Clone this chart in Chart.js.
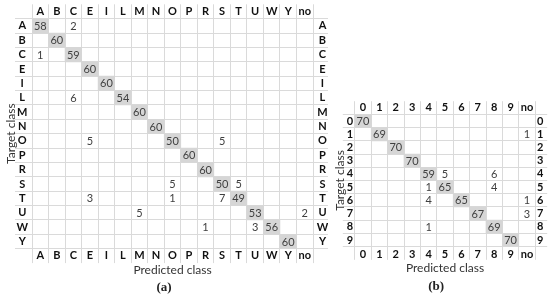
<!DOCTYPE html>
<html>
<head>
<meta charset="utf-8">
<script src="https://cdn.jsdelivr.net/npm/chart.js@4.4.0/dist/chart.umd.min.js"></script>
<style>
    body { margin: 0; background: #fff; }
    #wrap { position: relative; width: 550px; height: 297px; }
    canvas { position: absolute; top: 0; }
    #chartA { left: 0; }
    #chartB { left: 325px; }
</style>
</head>
<body>
<div id="wrap">
    <canvas id="chartA" width="340" height="297"></canvas>
    <canvas id="chartB" width="225" height="297"></canvas>
</div>
<script>
"use strict";

/* (a) letters */
var rowsA = ['A', 'B', 'C', 'E', 'I', 'L', 'M', 'N', 'O', 'P', 'R', 'S', 'T', 'U', 'W', 'Y'];
var colsA = ['A', 'B', 'C', 'E', 'I', 'L', 'M', 'N', 'O', 'P', 'R', 'S', 'T', 'U', 'W', 'Y', 'no'];
var countsA = [
    // A  B   C   E   I   L   M   N   O   P   R   S   T   U   W   Y  no
    [58, 0,  2,  0,  0,  0,  0,  0,  0,  0,  0,  0,  0,  0,  0,  0, 0],
    [0, 60,  0,  0,  0,  0,  0,  0,  0,  0,  0,  0,  0,  0,  0,  0, 0],
    [1,  0, 59,  0,  0,  0,  0,  0,  0,  0,  0,  0,  0,  0,  0,  0, 0],
    [0,  0,  0, 60,  0,  0,  0,  0,  0,  0,  0,  0,  0,  0,  0,  0, 0],
    [0,  0,  0,  0, 60,  0,  0,  0,  0,  0,  0,  0,  0,  0,  0,  0, 0],
    [0,  0,  6,  0,  0, 54,  0,  0,  0,  0,  0,  0,  0,  0,  0,  0, 0],
    [0,  0,  0,  0,  0,  0, 60,  0,  0,  0,  0,  0,  0,  0,  0,  0, 0],
    [0,  0,  0,  0,  0,  0,  0, 60,  0,  0,  0,  0,  0,  0,  0,  0, 0],
    [0,  0,  0,  5,  0,  0,  0,  0, 50,  0,  0,  5,  0,  0,  0,  0, 0],
    [0,  0,  0,  0,  0,  0,  0,  0,  0, 60,  0,  0,  0,  0,  0,  0, 0],
    [0,  0,  0,  0,  0,  0,  0,  0,  0,  0, 60,  0,  0,  0,  0,  0, 0],
    [0,  0,  0,  0,  0,  0,  0,  0,  5,  0,  0, 50,  5,  0,  0,  0, 0],
    [0,  0,  0,  3,  0,  0,  0,  0,  1,  0,  0,  7, 49,  0,  0,  0, 0],
    [0,  0,  0,  0,  0,  0,  5,  0,  0,  0,  0,  0,  0, 53,  0,  0, 2],
    [0,  0,  0,  0,  0,  0,  0,  0,  0,  0,  1,  0,  0,  3, 56,  0, 0],
    [0,  0,  0,  0,  0,  0,  0,  0,  0,  0,  0,  0,  0,  0,  0, 60, 0]
];

/* (b) digits */
var rowsB = ['0', '1', '2', '3', '4', '5', '6', '7', '8', '9'];
var colsB = ['0', '1', '2', '3', '4', '5', '6', '7', '8', '9', 'no'];
var countsB = [
    // 0  1   2   3   4   5   6   7   8   9  no
    [70,  0,  0,  0,  0,  0,  0,  0,  0,  0, 0],
    [0,  69,  0,  0,  0,  0,  0,  0,  0,  0, 1],
    [0,   0, 70,  0,  0,  0,  0,  0,  0,  0, 0],
    [0,   0,  0, 70,  0,  0,  0,  0,  0,  0, 0],
    [0,   0,  0,  0, 59,  5,  0,  0,  6,  0, 0],
    [0,   0,  0,  0,  1, 65,  0,  0,  4,  0, 0],
    [0,   0,  0,  0,  4,  0, 65,  0,  0,  0, 1],
    [0,   0,  0,  0,  0,  0,  0, 67,  0,  0, 3],
    [0,   0,  0,  0,  1,  0,  0,  0, 69,  0, 0],
    [0,   0,  0,  0,  0,  0,  0,  0,  0, 70, 0]
];

var gridCol = '#dadada';
var labelFont = {family: 'Lato', size: 11, weight: 'bold'};
var titleFont = {family: 'Lato', size: 12};

function confusionChart(id, rows, cols, counts, caption, box) {
    // diagonal cells as floating bars
    var diag = cols.map(function (c, j) {
        return j < rows.length ? [j - 0.5, j + 0.5] : null;
    });
    var rowTicks = function (scale) {
        scale.ticks = rows.map(function (r, i) { return {value: i}; });
    };
    var rowName = function (v) { return rows[v]; };

    var cellText = {
        id: 'cellText',
        afterDatasetsDraw: function (chart) {
            var c = chart.ctx, xs = chart.scales.x, ys = chart.scales.y;
            c.save();
            c.font = '11px Lato';
            c.fillStyle = '#404040';
            c.textAlign = 'center';
            c.textBaseline = 'middle';
            counts.forEach(function (row, i) {
                row.forEach(function (v, j) {
                    if (v) c.fillText(v, xs.getPixelForValue(j), ys.getPixelForValue(i) + 0.5);
                });
            });
            c.restore();
        }
    };

    return new Chart(document.getElementById(id), {
        type: 'bar',
        data: {
            labels: cols,
            datasets: [{
                data: diag,
                backgroundColor: '#d6d6d6',
                borderWidth: 0,
                barPercentage: 1,
                categoryPercentage: 1
            }]
        },
        options: {
            responsive: false,
            animation: false,
            layout: {padding: box.pad},
            plugins: {
                legend: {display: false},
                tooltip: {enabled: false},
                title: {
                    display: true,
                    text: caption,
                    position: 'bottom',
                    font: {family: 'Liberation Serif', size: 13},
                    color: '#222',
                    padding: {top: box.capGap, bottom: 0}
                }
            },
            scales: {
                x: {
                    position: 'bottom',
                    grid: {color: gridCol, tickLength: box.rowH, offset: true},
                    border: {display: false},
                    ticks: {font: labelFont, color: '#111', padding: box.xPad, autoSkip: false, maxRotation: 0},
                    title: {display: true, text: 'Predicted class', font: titleFont, color: '#333', padding: 0},
                    afterFit: function (s) { s.height = box.bottomH; }
                },
                x2: {
                    type: 'category',
                    labels: cols,
                    position: 'top',
                    offset: true,
                    grid: {color: gridCol, tickLength: box.rowH, offset: true, drawOnChartArea: false},
                    border: {display: false},
                    ticks: {font: labelFont, color: '#111', padding: box.xPad, autoSkip: false, maxRotation: 0},
                    afterFit: function (s) { s.height = box.rowH; }
                },
                y: {
                    type: 'linear',
                    position: 'left',
                    reverse: true,
                    min: -0.5,
                    max: rows.length - 0.5,
                    afterBuildTicks: rowTicks,
                    grid: {color: gridCol, tickLength: box.labL, offset: true},
                    border: {display: false},
                    ticks: {font: labelFont, color: '#111', padding: box.yPadL, crossAlign: 'center', autoSkip: false, callback: rowName},
                    title: {display: true, text: 'Target class', font: titleFont, color: '#333', padding: {top: box.titleGap, bottom: 0}},
                    afterFit: function (s) { s.width = box.leftW; }
                },
                y2: {
                    type: 'linear',
                    position: 'right',
                    reverse: true,
                    min: -0.5,
                    max: rows.length - 0.5,
                    afterBuildTicks: rowTicks,
                    grid: {color: gridCol, tickLength: box.labR, offset: true, drawOnChartArea: false},
                    border: {display: false},
                    ticks: {font: labelFont, color: '#111', padding: box.yPadR, crossAlign: 'center', autoSkip: false, callback: rowName},
                    afterFit: function (s) { s.width = box.labR; }
                }
            }
        },
        plugins: [cellText]
    });
}

confusionChart('chartA', rowsA, colsA, countsA, '(a)', {
    pad: {top: 4.3, right: 12, bottom: 1.2, left: 0},
    rowH: 14.4, xPad: -13.8, bottomH: 29.1,
    leftW: 32, labL: 17, yPadL: -13,
    labR: 15, yPadR: -11.3,
    titleGap: 3.6, capGap: 2.4
});

confusionChart('chartB', rowsB, colsB, countsB, '(b)', {
    pad: {top: 101.2, right: 2.8, bottom: 2.2, left: 0},
    rowH: 13.2, xPad: -12.4, bottomH: 29.2,
    leftW: 29.8, labL: 12, yPadL: -10.4,
    labR: 12, yPadR: -10.2,
    titleGap: 7.6, capGap: 3.4
});
</script>
</body>
</html>
